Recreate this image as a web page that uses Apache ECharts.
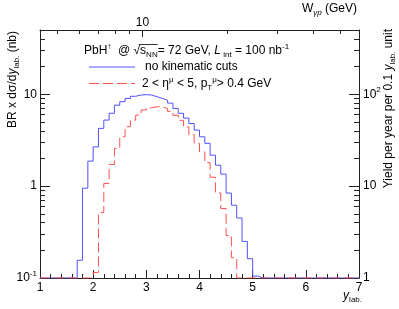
<!DOCTYPE html>
<html><head><meta charset="utf-8">
<script src="https://cdn.jsdelivr.net/npm/echarts@6/dist/echarts.min.js"></script>
<style>html,body{margin:0;padding:0;background:#fff}#c{width:399px;height:309px}</style>
</head><body><div id="c"></div>
<script>
// ---- data ----
const binLowEdges = [1.0,1.1,1.2,1.3,1.4,1.5,1.6,1.7,1.8,1.9,
  2.0,2.1,2.2,2.3,2.4,2.5,2.6,2.7,2.8,2.9,
  3.0,3.1,3.2,3.3,3.4,3.5,3.6,3.7,3.8,3.9,
  4.0,4.1,4.2,4.3,4.4,4.5,4.6,4.7,4.8,4.9,
  5.0,5.1,5.2,5.3,5.4,5.5,5.6,5.7,5.8,5.9,
  6.0,6.1,6.2,6.3,6.4,6.5,6.6,6.7,6.8,6.9];
const binWidth = 0.1;
const noCuts = [0,0,0,0,0,0,0,0.156,0.95,1.87,
  2.67,4.25,5.23,6.2,7.6,8.3,9.0,9.5,9.8,9.9,
  9.8,9.4,9.0,8.6,8.0,7.0,6.2,5.5,4.8,4.07,
  3.44,2.92,2.17,1.69,1.35,0.84,0.62,0.45,0.25,0.162,
  0.105,0,0,0,0,0,0,0,0,0,
  0,0,0,0,0,0,0,0,0,0];
const withCuts = [0,0,0,0,0,0,0,0,0,0,
  0.115,0.515,1.07,1.72,2.57,3.44,4.43,5.23,5.93,6.73,
  7.13,7.3,7.3,7.0,6.5,5.9,5.2,4.4,3.65,2.92,
  2.36,1.8,1.25,0.84,0.57,0.29,0.166,0,0,0,
  0,0,0,0,0,0,0,0,0,0,
  0,0,0,0,0,0,0,0,0,0];
const leftMajor = [0.1, 1, 10];
const leftMinor = [0.2,0.3,0.4,0.5,0.6,0.7,0.8,0.9,2,3,4,5,6,7,8,9,20,30,40,50];
const rightMajor = [1, 10, 100];
const rightMinor = [2,3,4,5,6,7,8,9,20,30,40,50,60,70,80,90,200,300,400,500];
const topMajorW = [10];
const topMinorW = [5,6,7,8,9,20,30,40,50];

const yMin = 0.1, yMax = 50;
const FONT = '"Liberation Sans", Arial, Helvetica, sans-serif';
const AX = '#222';

function stepData(vals){
  const d = binLowEdges.map((e,i)=>[e, vals[i] > 0 ? vals[i] : yMin]);
  const last = binLowEdges.length-1;
  d.push([+(binLowEdges[last]+binWidth).toFixed(2), vals[last] > 0 ? vals[last] : yMin]);
  return d;
}
function powLabel(v){
  const p = Math.round(Math.log10(v));
  if (p === 0) return '{b|1}';
  if (p === 1) return '{b|10}';
  return '{b|10}{s|' + p + '}';
}
const labRich = {
  b:{fontSize:12, fontFamily:FONT, color:'#000', lineHeight:16},
  s:{fontSize:8, fontFamily:FONT, color:'#000', verticalAlign:'top'}
};
const txtRich = {
  n:{fontSize:12, fontFamily:FONT, fill:'#000', lineHeight:16},
  it:{fontSize:12, fontFamily:FONT, fontStyle:'italic', fill:'#000', lineHeight:16},
  sup:{fontSize:8, fontFamily:FONT, fill:'#000', verticalAlign:'top'},
  sub:{fontSize:8, fontFamily:FONT, fill:'#000', verticalAlign:'bottom'},
  subi:{fontSize:8, fontFamily:FONT, fontStyle:'italic', fill:'#000', verticalAlign:'bottom'}
};

// measure for overline of sqrt(s_NN)
const mctx = document.createElement('canvas').getContext('2d');
function mw(t, size, style){ mctx.font = (style||'') + ' ' + size + 'px ' + FONT; return mctx.measureText(t).width; }
const L1x = 84, L1y = 51;
const olX1 = L1x + mw('PbH',12) + mw('↑',8) + mw('  @ ',12) + mw('√',12)*0.8;
const olX2 = L1x + mw('PbH',12) + mw('↑',8) + mw('  @ √',12) + mw('s',12) + mw('NN',8);

const chart = echarts.init(document.getElementById('c'), null, {renderer:'canvas'});
const baseLine = {show:true, lineStyle:{color:AX, width:1}};
chart.setOption({
  animation:false,
  backgroundColor:'#fff',
  grid:{left:40, right:40, top:30, bottom:31},
  xAxis:[
    {type:'value', position:'bottom', min:1, max:7, interval:1,
     axisLine:baseLine, splitLine:{show:false},
     axisTick:{show:true, inside:true, length:8, lineStyle:{color:AX}},
     minorTick:{show:true, splitNumber:5, length:4, lineStyle:{color:AX}},
     axisLabel:{fontSize:12, fontFamily:FONT, color:'#000', margin:4}},
    {type:'log', position:'top', min:4.35, max:58.2, logBase:10,
     axisLine:baseLine, splitLine:{show:false},
     axisTick:{show:true, inside:true, length:4, customValues:topMinorW, lineStyle:{color:AX}},
     axisLabel:{show:false}},
    {type:'log', position:'top', min:4.35, max:58.2, logBase:10,
     axisLine:{show:false}, splitLine:{show:false},
     axisTick:{show:true, inside:true, length:7, customValues:topMajorW, lineStyle:{color:AX}},
     axisLabel:{show:true, customValues:topMajorW, fontSize:12, fontFamily:FONT, color:'#000', margin:1,
       formatter:v=>String(Math.round(v))}}
  ],
  yAxis:[
    {type:'log', position:'left', min:yMin, max:yMax, logBase:10,
     axisLine:baseLine, splitLine:{show:false},
     axisTick:{show:true, inside:true, length:5, customValues:leftMinor, lineStyle:{color:AX}},
     axisLabel:{show:false}},
    {type:'log', position:'left', min:yMin, max:yMax, logBase:10,
     axisLine:{show:false}, splitLine:{show:false},
     axisTick:{show:true, inside:true, length:10, customValues:leftMajor, lineStyle:{color:AX}},
     axisLabel:{show:true, customValues:leftMajor, margin:3, formatter:powLabel, rich:labRich}},
    {type:'log', position:'right', min:yMin*10, max:yMax*10, logBase:10,
     axisLine:baseLine, splitLine:{show:false},
     axisTick:{show:true, inside:true, length:5, customValues:rightMinor, lineStyle:{color:AX}},
     axisLabel:{show:false}},
    {type:'log', position:'right', min:yMin*10, max:yMax*10, logBase:10,
     axisLine:{show:false}, splitLine:{show:false},
     axisTick:{show:true, inside:true, length:10, customValues:rightMajor, lineStyle:{color:AX}},
     axisLabel:{show:true, customValues:rightMajor, margin:4, formatter:powLabel, rich:labRich}}
  ],
  series:[
    {name:'no kinematic cuts', type:'line', step:'end', xAxisIndex:0, yAxisIndex:1,
     data:stepData(noCuts), showSymbol:false, symbol:'none',
     lineStyle:{color:'#5050ff', width:1}, z:3},
    {name:'2 < η < 5', type:'line', step:'end', xAxisIndex:0, yAxisIndex:1,
     data:stepData(withCuts), showSymbol:false, symbol:'none',
     lineStyle:{color:'#ff5050', width:1, type:[10,4]}, z:4}
  ],
  graphic:[
    {type:'text', x:13, y:31, rotation:Math.PI/2,
     style:{text:'{n|BR x dσ/d}{it|y}{sub|lab.}{n| (nb)}', rich:txtRich, align:'right', verticalAlign:'middle'}},
    {type:'text', x:389, y:29, rotation:Math.PI/2,
     style:{text:'{n|Yield per year per 0.1 }{it|y}{sub|lab.}{n| unit}', rich:txtRich, align:'right', verticalAlign:'middle'}},
    {type:'text', x:362, y:296,
     style:{text:'{it|y}{sub|lab.}', rich:txtRich, align:'right', verticalAlign:'middle'}},
    {type:'text', x:357, y:9,
     style:{text:'{n|W}{subi|γp}{n| (GeV)}', rich:txtRich, align:'right', verticalAlign:'middle'}},
    {type:'text', x:L1x, y:L1y,
     style:{text:'{n|PbH}{sup|↑}{n|  @ √s}{sub|NN}{n|= 72 GeV, }{it|L}{sub| int}{n| = 100 nb}{sup|-1}', rich:txtRich, align:'left', verticalAlign:'middle'}},
    {type:'line', shape:{x1:olX1, y1:L1y-6.5, x2:olX2, y2:L1y-6.5}, style:{stroke:'#000', lineWidth:0.8}},
    {type:'line', shape:{x1:89, y1:67, x2:135, y2:67}, style:{stroke:'#5050ff', lineWidth:1}},
    {type:'text', x:145, y:67,
     style:{text:'{n|no kinematic cuts}', rich:txtRich, align:'left', verticalAlign:'middle'}},
    {type:'line', shape:{x1:89, y1:83.5, x2:135, y2:83.5}, style:{stroke:'#ff5050', lineWidth:1, lineDash:[10,4]}},
    {type:'text', x:142, y:83.5,
     style:{text:'{n|2 < η}{sup|μ}{n| < 5, p}{sub|T}{sup|μ}{n|> 0.4 GeV}', rich:txtRich, align:'left', verticalAlign:'middle'}}
  ]
});
</script></body></html>
